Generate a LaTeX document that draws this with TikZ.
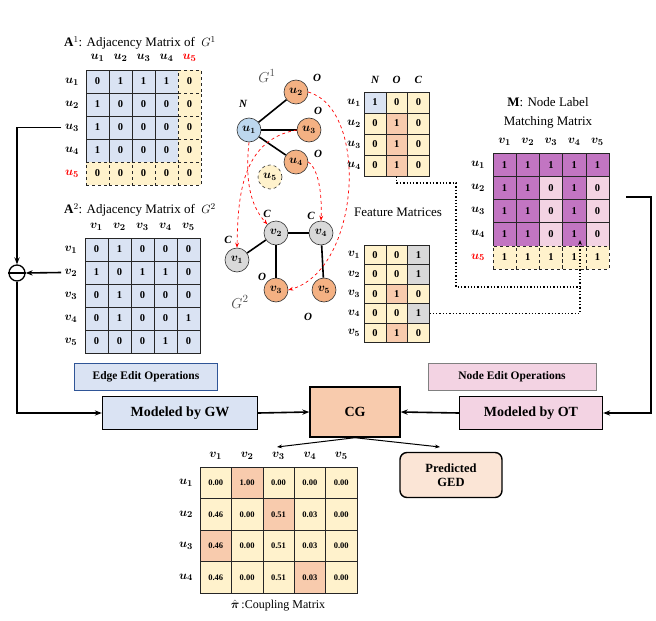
\documentclass[tikz,border=0pt]{standalone}
\usepackage{fontspec}
\usepackage{amsmath,bm}
\setmainfont{Liberation Serif}
\usetikzlibrary{arrows.meta}
\definecolor{cb}{HTML}{DAE3F3}
\definecolor{cy}{HTML}{FFF2CC}
\definecolor{cp}{HTML}{F8CBAD}
\definecolor{cg}{HTML}{D9D9D9}
\definecolor{cm}{HTML}{C275C2}
\definecolor{ck}{HTML}{F3D3E3}
\definecolor{nb}{HTML}{BDD7EE}
\definecolor{no}{HTML}{F4B183}
\definecolor{ged}{HTML}{FBE5D6}
\definecolor{edgeb}{HTML}{2F5597}
\newcommand\lb[2]{$\bm{#1_{#2}}$}
\tikzset{
 cellst/.style={draw=black!85, line width=0.6pt, inner sep=0pt, font=\bfseries\fontsize{10.5}{11}\selectfont},
 dcell/.style={cellst, dashed},
 gnode/.style={circle, draw=black!80, line width=0.6pt, minimum size=24pt, inner sep=0pt, font=\fontsize{12}{12}\selectfont},
 glbl/.style={font=\bfseries\itshape\fontsize{11}{12}\selectfont},
 redarr/.style={red, dashed, line width=0.7pt, -{Stealth[length=5pt]}},
 flow/.style={line width=1.6pt, -{Stealth[length=7pt]}},
 dotl/.style={line width=1.3pt, dotted},
 opbox/.style={draw, line width=1pt, minimum height=27pt, font=\bfseries\fontsize{11.5}{13}\selectfont},
 mbox/.style={draw, line width=1.4pt, minimum height=33pt, font=\bfseries\fontsize{14}{16}\selectfont},
 ttl/.style={font=\fontsize{13}{15}\selectfont},
 rl/.style={font=\fontsize{13}{14}\selectfont}
}
\begin{document}
\begin{tikzpicture}[x=1pt,y=-1pt]
\useasboundingbox (0,0) rectangle (656,621);
% ---------- A1 ----------
\node[ttl] (t1) at (140,43) {$\mathbf{A}^1$: Adjacency Matrix of \ $G^1$};
\foreach \row [count=\r from 0] in {{0,1,1,1},{1,0,0,0},{1,0,0,0},{1,0,0,0}}{
  \foreach \v [count=\c from 0] in \row {
    \node[cellst, fill=cb, minimum width=23pt, minimum height=23pt] at ({97.5+23*\c},{81.5+23*\r}) {\v};
  }
}
\foreach \c in {0,...,3}
  \node[dcell, fill=cy, minimum width=23pt, minimum height=23pt] at ({97.5+23*\c},173.5) {0};
\foreach \r in {0,...,4}
  \node[dcell, fill=cy, minimum width=23pt, minimum height=23pt] at (189.5,{81.5+23*\r}) {0};
\foreach \i in {1,...,4}{
  \node[rl] at ({97.5+23*(\i-1)},58) {\lb{u}{\i}};
  \node[rl] (a1r\i) at (72,{81.5+23*(\i-1)}) {\lb{u}{\i}};
}
\node[rl,red] at (189.5,58) {\lb{u}{5}};
\node[rl,red] at (72,173.5) {\lb{u}{5}};
% ---------- A2 ----------
\node[ttl] (t2) at (140,210) {$\mathbf{A}^2$: Adjacency Matrix of \ $G^2$};
\foreach \row [count=\r from 0] in {{0,1,0,0,0},{1,0,1,1,0},{0,1,0,0,0},{0,1,0,0,1},{0,0,0,1,0}}{
  \foreach \v [count=\c from 0] in \row {
    \node[cellst, fill=cb, minimum width=23pt, minimum height=23pt] at ({96.5+23*\c},{249.5+23*\r}) {\v};
  }
}
\foreach \i in {1,...,5}{
  \node[rl] at ({96.5+23*(\i-1)},227) {\lb{v}{\i}};
  \node[rl] (a2r\i) at (71,{249.5+23*(\i-1)}) {\lb{v}{\i}};
}
% ---------- minus ----------
\node[circle, draw, line width=1.3pt, minimum size=16pt, inner sep=0pt] (minus) at (17,273) {};
\draw[line width=1.3pt] (minus.west) -- (minus.east);
\draw[flow] (a1r3.west) -| (minus.north);
\draw[flow] (a2r2.west) -- (minus.east);
% ---------- graphs ----------
\node[font=\fontsize{15}{16}\selectfont, text=black!70] (g1) at (267,76) {$G^1$};
\node[font=\fontsize{15}{16}\selectfont, text=black!70] (g2) at (240,302) {$G^2$};
\node[gnode, fill=nb] (u1) at (249,130) {\lb{u}{1}};
\node[gnode, fill=no] (u2) at (296,92) {\lb{u}{2}};
\node[gnode, fill=no] (u3) at (309,130) {\lb{u}{3}};
\node[gnode, fill=no] (u4) at (296,162) {\lb{u}{4}};
\node[gnode, fill=cy, dashed] (u5) at (270,177) {\lb{u}{5}};
\node[gnode, fill=cg] (v1) at (237,260) {\lb{v}{1}};
\node[gnode, fill=cg] (v2) at (276,233) {\lb{v}{2}};
\node[gnode, fill=cg] (v4) at (321,233) {\lb{v}{4}};
\node[gnode, fill=no] (v3) at (276,290) {\lb{v}{3}};
\node[gnode, fill=no] (v5) at (324,290) {\lb{v}{5}};
\foreach \a/\b in {u1/u2,u1/u3,u1/u4,v1/v2,v2/v4,v2/v3,v4/v5}
  \draw[line width=1.6pt] (\a) -- (\b);
\node[glbl] at (243,104) {N};
\node[glbl] at (317,78) {O};
\node[glbl] at (318,111) {O};
\node[glbl] at (318,154) {O};
\node[glbl] at (228,240) {C};
\node[glbl] at (267,214) {C};
\node[glbl] at (311,216) {C};
\node[glbl] at (262,277) {O};
\node[glbl] at (308,317) {O};
\draw[redarr] (u1.south) .. controls (245,180) and (250,205) .. (v2.north west);
\draw[redarr] (u3.west) .. controls (240,140) and (238,200) .. (v1.north);
\draw[redarr] (u2.east) .. controls (370,110) and (360,270) .. (v3.east);
\draw[redarr] (u4.east) .. controls (320,170) and (322,200) .. (v4.north);
% ---------- feature matrices ----------
\foreach \i/\t in {0/N,1/O,2/C}
  \node[glbl] at ({375+21.7*\i},80) {\t};
\foreach \row [count=\r from 0] in {{1/b,0/y,0/y},{0/y,1/p,0/y},{0/y,1/p,0/y},{0/y,1/p,0/y}}{
  \foreach \v/\k [count=\c from 0] in \row {
    \node[cellst, fill=c\k, minimum width=21.7pt, minimum height=21pt] (f\r\c) at ({375+21.7*\c},{102.5+21*\r}) {\v};
  }
}
\foreach \i in {1,...,4}
  \node[font=\fontsize{11.5}{12}\selectfont] at (354,{102.5+21*(\i-1)}) {\lb{u}{\i}};
\node[ttl] (fm) at (398,212) {Feature Matrices};
\foreach \row [count=\r from 0] in {{0/y,0/y,1/g},{0/y,0/y,1/g},{0/y,1/p,0/y},{0/y,0/y,1/g},{0/y,1/p,0/y}}{
  \foreach \v/\k [count=\c from 0] in \row {
    \node[cellst, fill=c\k, minimum width=21.7pt, minimum height=19.5pt] (h\r\c) at ({375+21.7*\c},{254.75+19.5*\r}) {\v};
  }
}
\foreach \i in {1,...,5}
  \node[font=\fontsize{11.5}{12}\selectfont] at (354,{254.75+19.5*(\i-1)}) {\lb{v}{\i}};
% ---------- M ----------
\node[ttl] (mt1) at (548,102) {$\mathbf{M}$: Node Label};
\node[ttl] (mt2) at (548,122) {Matching Matrix};
\foreach \row [count=\r from 0] in {{1/m,1/m,1/m,1/m,1/m},{1/m,1/m,0/k,1/m,0/k},{1/m,1/m,0/k,1/m,0/k},{1/m,1/m,0/k,1/m,0/k}}{
  \foreach \v/\k [count=\c from 0] in \row {
    \node[cellst, fill=c\k, minimum width=23.2pt, minimum height=23.2pt] (m\r\c) at ({504.6+23.2*\c},{164.6+23.2*\r}) {\v};
  }
}
\foreach \c in {0,...,4}
  \node[dcell, fill=cy, minimum width=23.2pt, minimum height=23.2pt] (m4\c) at ({504.6+23.2*\c},257.4) {1};
\foreach \i in {1,...,5}
  \node[rl] at ({504.6+23.2*(\i-1)},142) {\lb{v}{\i}};
\foreach \i in {1,...,4}
  \node[rl] (mr\i) at (478,{164.6+23.2*(\i-1)}) {\lb{u}{\i}};
\node[rl,red] at (478,257.4) {\lb{u}{5}};
\coordinate (tip) at (580,240);
\draw[dotl] (f31.south) |- (456,183) |- (580,287);
\draw[dotl] (h32.east) -| (580,287);
\draw[dotl, -{Stealth[length=5pt]}] (580,287) -- (tip);
% ---------- ops ----------
\node[opbox, fill=cb, draw=edgeb, minimum width=143pt] (eeo) at (146,377) {Edge Edit Operations};
\node[opbox, fill=ck, draw=black!50, minimum width=168pt] (neo) at (512,377) {Node Edit Operations};
\node[mbox, fill=cb, minimum width=155pt] (gw) at (180,413) {Modeled by GW};
\node[mbox, fill=cp, minimum width=90pt, minimum height=50pt] (cg) at (355,412) {CG};
\node[mbox, fill=ck, minimum width=143pt] (ot) at (531,413) {Modeled by OT};
\node[draw, line width=1.4pt, rounded corners=7pt, fill=ged, minimum width=102pt, minimum height=45pt, align=center, font=\bfseries\fontsize{12.5}{14}\selectfont] (ged) at (451,475) {Predicted\\GED};
\draw[flow] (minus.south) |- (gw.west);
\draw[flow] (gw.east) -- (cg.west);
\draw[flow] (ot.west) -- (cg.east);
\draw[flow] (626,197) -| (651,413) -- (ot.east);
\coordinate (cpl) at (277,447);
\draw[line width=1pt, -{Stealth[length=5pt]}] (cg.south) -- (cpl);
\draw[line width=1pt, -{Stealth[length=5pt]}] (cg.south) -- (440,447);
% ---------- coupling ----------
\foreach \row [count=\r from 0] in {{0.00/y,1.00/p,0.00/y,0.00/y,0.00/y},{0.46/y,0.00/y,0.51/p,0.03/y,0.00/y},{0.46/p,0.00/y,0.51/y,0.03/y,0.00/y},{0.46/y,0.00/y,0.51/y,0.03/p,0.00/y}}{
  \foreach \v/\k [count=\c from 0] in \row {
    \node[cellst, fill=c\k, minimum width=31.4pt, minimum height=31.5pt, font=\bfseries\fontsize{8.5}{9}\selectfont] at ({215.7+31.4*\c},{482.75+31.5*\r}) {\v};
  }
}
\foreach \i in {1,...,5}
  \node[rl] at ({215.7+31.4*(\i-1)},456) {\lb{v}{\i}};
\foreach \i in {1,...,4}
  \node[rl] at (186,{482.75+31.5*(\i-1)}) {\lb{u}{\i}};
\node[font=\fontsize{12}{14}\selectfont] (cap) at (278,606) {$\bm{\hat{\pi}}$\,:Coupling Matrix};
\end{tikzpicture}
\end{document}
